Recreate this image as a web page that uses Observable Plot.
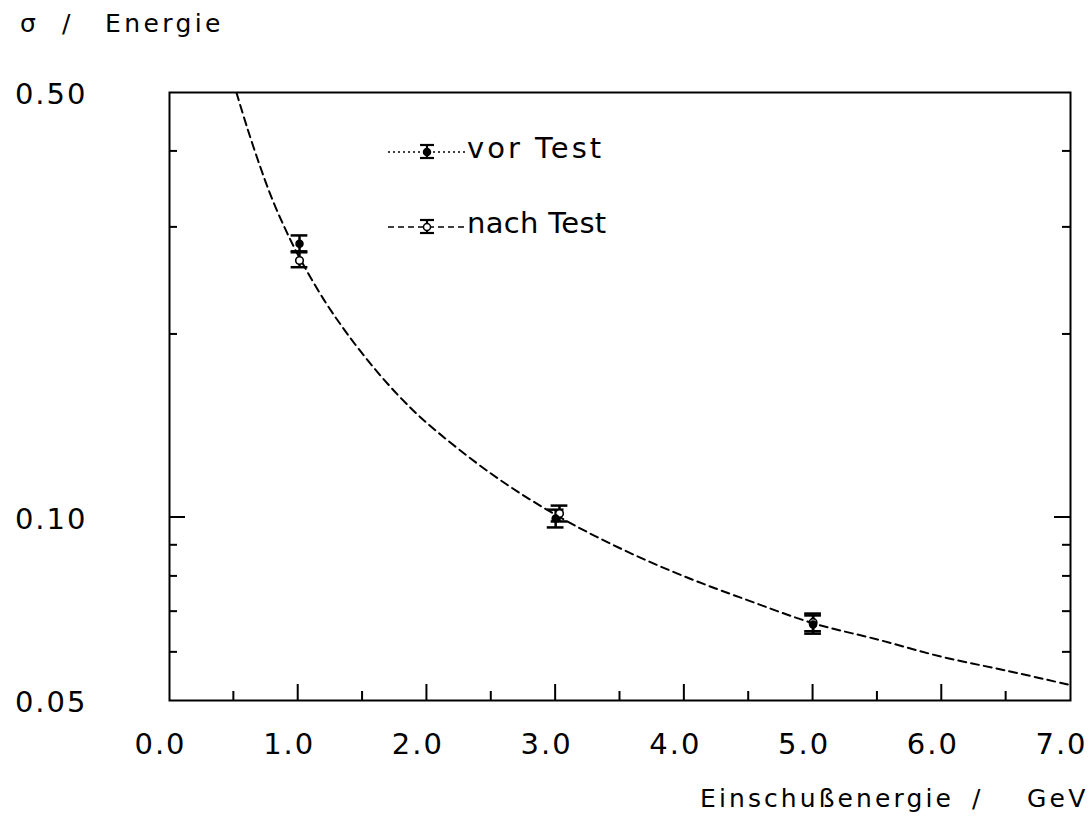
<!DOCTYPE html>
<html>
<head>
<meta charset="utf-8">
<script src="https://cdn.jsdelivr.net/npm/d3@7"></script>
<script src="https://cdn.jsdelivr.net/npm/@observablehq/plot@0.6"></script>
<style>
  html, body { margin: 0; padding: 0; background: white; }
  #chart svg { display: block; }
  #chart g[aria-label="x-axis tick label"] text,
  #chart g[aria-label="y-axis tick label"] text { letter-spacing: 2px; }
</style>
</head>
<body>
<div id="chart"></div>
<script>
// ---- data ----
// fitted curve (σ/E vs E)
const curveE = [0.52, 0.6, 0.7, 0.8, 0.9, 1.0, 1.2, 1.4, 1.6, 1.8, 2.0, 2.5, 3.0, 3.5, 4.0, 4.5, 5.0, 5.5, 6.0, 6.5, 7.0];
const curveS = [0.50, 0.44, 0.38, 0.333, 0.298, 0.270, 0.228, 0.198, 0.175, 0.157, 0.143, 0.118, 0.101, 0.089, 0.080, 0.073, 0.067, 0.063, 0.059, 0.056, 0.053];

// "vor Test" (filled points)
const vorE  = [1.01, 3.0, 5.0];
const vorS  = [0.282, 0.0996, 0.0667];
const vorLo = [0.274, 0.0963, 0.0644];
const vorHi = [0.291, 0.1030, 0.0690];

// "nach Test" (open points)
const nachE  = [1.01, 3.03, 5.0];
const nachS  = [0.2646, 0.1015, 0.0672];
const nachLo = [0.258, 0.0985, 0.0650];
const nachHi = [0.273, 0.1046, 0.0695];

// axes
const xTickValues = [0, 1, 2, 3, 4, 5, 6, 7];
const xMinorValues = [0.5, 1.5, 2.5, 3.5, 4.5, 5.5, 6.5];
const yTickValues = [0.05, 0.10, 0.50];
const yMajorInner = [0.10];
const yMinorValues = [0.06, 0.07, 0.08, 0.09, 0.2, 0.3, 0.4];

const titleParts = ["σ", "/", "Energie"];
const xLabelParts = ["Einschußenergie", "/", "GeV"];
const legendLabels = ["vor Test", "nach Test"];

// ---- tables ----
const curve = curveE.map((E, i) => ({E, s: curveS[i]}));
const vor = vorE.map((E, i) => ({E, s: vorS[i], lo: vorLo[i], hi: vorHi[i]}));
const nach = nachE.map((E, i) => ({E, s: nachS[i], lo: nachLo[i], hi: nachHi[i]}));
const pts = [...vor, ...nach];

const FONT = "'DejaVu Sans', 'Liberation Sans', sans-serif";
const capHalf = 0.065;

const plot = Plot.plot({
  width: 1091,
  height: 824,
  marginLeft: 169,
  marginRight: 21,
  marginTop: 92,
  marginBottom: 124,
  style: {fontFamily: FONT, background: "white", color: "black"},
  x: {domain: [0, 7]},
  y: {type: "log", domain: [0.05, 0.5]},
  marks: [
    Plot.axisX({ticks: xTickValues, tickSize: 0, tickPadding: 33, tickFormat: d3.format(".1f"),
                fontSize: 29, dx: -9, label: null}),
    Plot.axisY({ticks: yTickValues, tickSize: 0, tickPadding: 82, tickFormat: d3.format(".2f"),
                fontSize: 29, dy: 2, label: null}),
    Plot.line(curve, {x: "E", y: "s", curve: "catmull-rom", stroke: "black",
                      strokeWidth: 2, strokeDasharray: "8,5", clip: true}),
    Plot.ruleX(pts, {x: "E", y1: "lo", y2: "hi", stroke: "black", strokeWidth: 2.5}),
    Plot.ruleY(pts, {y: "lo", x1: d => d.E - capHalf, x2: d => d.E + capHalf, stroke: "black", strokeWidth: 2.5}),
    Plot.ruleY(pts, {y: "hi", x1: d => d.E - capHalf, x2: d => d.E + capHalf, stroke: "black", strokeWidth: 2.5}),
    Plot.dot(nach, {x: "E", y: "s", r: 3.8, fill: "white", stroke: "black", strokeWidth: 1.6}),
    Plot.dot(vor, {x: "E", y: "s", r: 3.5, fill: "black", stroke: "black"}),
    Plot.frame({stroke: "black", strokeWidth: 2})
  ]
});

document.getElementById("chart").appendChild(plot);

// ---- inward ticks drawn with the plot's scales ----
const sx = plot.scale("x"), sy = plot.scale("y");
const svg = d3.select(plot);
const g = svg.append("g").attr("stroke", "black").attr("stroke-width", 2);
const x0 = sx.apply(0), x1 = sx.apply(7);
const y0 = sy.apply(0.05);
xTickValues.slice(1, -1).forEach(v => {
  const x = sx.apply(v);
  g.append("line").attr("x1", x).attr("x2", x).attr("y1", y0).attr("y2", y0 - 16);
});
xMinorValues.forEach(v => {
  const x = sx.apply(v);
  g.append("line").attr("x1", x).attr("x2", x).attr("y1", y0).attr("y2", y0 - 9);
});
yMajorInner.forEach(v => {
  const y = sy.apply(v);
  g.append("line").attr("x1", x0).attr("x2", x0 + 16).attr("y1", y).attr("y2", y);
  g.append("line").attr("x1", x1).attr("x2", x1 - 16).attr("y1", y).attr("y2", y);
});
yMinorValues.forEach(v => {
  const y = sy.apply(v);
  g.append("line").attr("x1", x0).attr("x2", x0 + 8).attr("y1", y).attr("y2", y);
  g.append("line").attr("x1", x1).attr("x2", x1 - 8).attr("y1", y).attr("y2", y);
});

// ---- titles (pieces placed as in the reference) ----
const t = svg.append("g").attr("fill", "black").attr("text-anchor", "start").style("font-family", FONT);
function piece(txt, x, y, size, ls) {
  t.append("text").attr("x", x).attr("y", y).attr("font-size", size)
    .attr("text-anchor", "start")
    .style("letter-spacing", ls + "px").text(txt);
}
piece(titleParts[0], 20, 32, 25, 0);
piece(titleParts[1], 62, 32, 25, 0);
piece(titleParts[2], 105, 32, 25, 3.4);
piece(xLabelParts[0], 700, 807, 25, 3.1);
piece(xLabelParts[1], 972, 807, 25, 0);
piece(xLabelParts[2], 1027, 807, 25, 3.2);

// ---- legend ----
const lg = svg.append("g").attr("text-anchor", "start");
const rows = [
  {y: 152, dash: "2,3", filled: true, label: legendLabels[0], ls: 3},
  {y: 227, dash: "6,4", filled: false, label: legendLabels[1], ls: 0.3}
];
rows.forEach(r => {
  lg.append("line").attr("x1", 388).attr("x2", 465).attr("y1", r.y).attr("y2", r.y)
    .attr("stroke", "black").attr("stroke-width", 1.6).attr("stroke-dasharray", r.dash);
  lg.append("line").attr("x1", 427).attr("x2", 427).attr("y1", r.y - 7).attr("y2", r.y + 6)
    .attr("stroke", "black").attr("stroke-width", 2.2);
  [r.y - 7, r.y + 6].forEach(yy =>
    lg.append("line").attr("x1", 420).attr("x2", 434).attr("y1", yy).attr("y2", yy)
      .attr("stroke", "black").attr("stroke-width", 2.2));
  lg.append("circle").attr("cx", 427).attr("cy", r.y).attr("r", 3.5)
    .attr("fill", r.filled ? "black" : "white").attr("stroke", "black").attr("stroke-width", 1.5);
  lg.append("text").attr("x", 467).attr("y", r.y + 6).attr("font-size", 29)
    .attr("text-anchor", "start").attr("font-family", FONT).style("letter-spacing", r.ls + "px")
    .text(r.label);
});
</script>
</body>
</html>
